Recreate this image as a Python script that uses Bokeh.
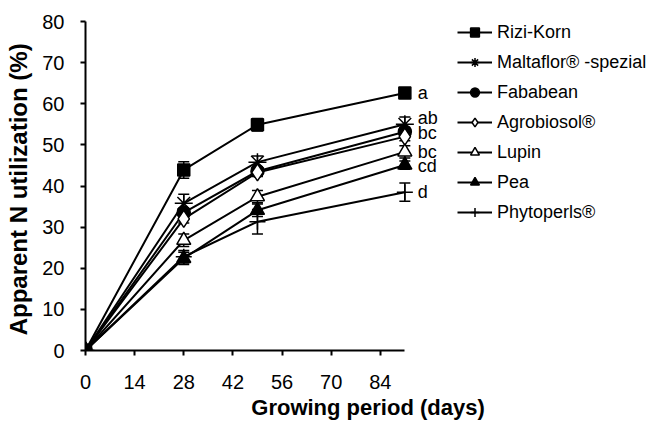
from bokeh.plotting import figure
from bokeh.models import (ColumnDataSource, Whisker, TeeHead, Legend, LegendItem,
                          Range1d, FixedTicker)
from bokeh.embed import file_html
from bokeh.resources import INLINE
from bokeh.core.properties import value

# ---------------- data ----------------
days = [0, 28, 49, 91]
x_ticks = [0, 14, 28, 42, 56, 70, 84]
y_ticks = [0, 10, 20, 30, 40, 50, 60, 70, 80]

names = ["Rizi-Korn", "Maltaflor\u00ae -spezial", "Fababean", "Agrobiosol\u00ae",
         "Lupin", "Pea", "Phytoperls\u00ae"]

rizi_korn = [0, 43.9, 54.9, 62.6]
maltaflor = [0, 35.8, 45.8, 55.0]
fababean = [0, 33.5, 43.6, 53.2]
agrobiosol = [0, 32.0, 43.3, 52.0]
lupin = [0, 26.8, 37.4, 48.3]
pea = [0, 22.4, 34.1, 45.1]
phytoperls = [0, 22.8, 31.3, 38.5]

rizi_korn_err = [0, 2.0, 1.5, 1.0]
maltaflor_err = [0, 2.2, 1.5, 1.8]
fababean_err = [0, 1.0, 1.0, 1.0]
agrobiosol_err = [0, 1.0, 1.0, 1.0]
lupin_err = [0, 1.5, 1.5, 1.5]
pea_err = [0, 1.5, 1.5, 1.0]
phytoperls_err = [0, 1.5, 3.0, 2.2]

sig_letters = ["a", "ab", "bc", "bc", "cd", "d"]
sig_series = [0, 1, 2, 4, 5, 6]

# ---------------- styles ----------------
FONT = "Liberation Sans"
series = [rizi_korn, maltaflor, fababean, agrobiosol, lupin, pea, phytoperls]
errors = [rizi_korn_err, maltaflor_err, fababean_err, agrobiosol_err,
          lupin_err, pea_err, phytoperls_err]
styles = [
    dict(marker="square", fill_color="black", size=12),
    dict(marker="asterisk", fill_color="black", size=18),
    dict(marker="circle", fill_color="black", size=13),
    dict(marker="diamond", fill_color="white", size=17),
    dict(marker="triangle", fill_color="white", size=14),
    dict(marker="triangle", fill_color="black", size=14),
    dict(marker="cross", fill_color="black", size=16),
]
sig_nudge = [0, -6, 1, 0, 1, 0]

p = figure(width=650, height=427, output_backend="svg", toolbar_location=None,
           x_range=Range1d(0, 161), y_range=Range1d(0, 80),
           min_border_left=85, min_border_right=0, min_border_top=21,
           min_border_bottom=77)
p.outline_line_color = None
p.xgrid.visible = False
p.ygrid.visible = False
p.background_fill_color = "white"

for ax in (p.xaxis, p.yaxis):
    ax.axis_line_width = 2
    ax.axis_line_color = "black"
    ax.major_tick_line_width = 2
    ax.major_tick_line_color = "black"
    ax.major_tick_out = 5
    ax.major_tick_in = 0
    ax.minor_tick_line_color = None
    ax.major_label_text_font = FONT
    ax.major_label_text_font_size = "20px"
    ax.major_label_text_color = "black"
    ax.axis_label_text_font = FONT
    ax.axis_label_text_font_style = "bold"
    ax.axis_label_text_color = "black"

p.xaxis.ticker = FixedTicker(ticks=x_ticks)
p.yaxis.ticker = FixedTicker(ticks=y_ticks)
p.xaxis.bounds = (0, 91)
p.yaxis.bounds = (0, 80)
p.xaxis.axis_label = "Growing period (days)"
p.yaxis.axis_label = "Apparent  N utilization (%)"
p.xaxis.axis_label_text_font_size = "22px"
p.yaxis.axis_label_text_font_size = "24px"
p.xaxis.major_label_standoff = 19
p.xaxis.axis_label_standoff = 3
p.yaxis.major_label_standoff = 16
p.yaxis.axis_label_standoff = 7

items = []
for name, ys, es, st in zip(names, series, errors, styles):
    src = ColumnDataSource(dict(x=days, y=ys))
    lr = p.line("x", "y", source=src, line_color="black", line_width=2)
    ex = [d for d, e in zip(days, es) if e > 0]
    up = [y + e for y, e in zip(ys, es) if e > 0]
    lo = [y - e for y, e in zip(ys, es) if e > 0]
    esrc = ColumnDataSource(dict(x=ex, upper=up, lower=lo))
    w = Whisker(base="x", upper="upper", lower="lower", source=esrc,
                dimension="height", line_color="black", line_width=1.5,
                upper_head=TeeHead(size=11, line_width=1.5, line_color="black"),
                lower_head=TeeHead(size=11, line_width=1.5, line_color="black"))
    p.add_layout(w)
    sr = p.scatter("x", "y", source=src, marker=st["marker"], size=st["size"],
                   fill_color=st["fill_color"], line_color="black", line_width=1.5)
    items.append(LegendItem(label=name, renderers=[lr, sr]))

# significance letters
lsrc = ColumnDataSource(dict(
    x=[days[-1]] * len(sig_letters),
    y=[series[i][-1] for i in sig_series],
    t=sig_letters,
    yo=sig_nudge,
))
p.text("x", "y", text="t", source=lsrc, x_offset=13, y_offset="yo",
       text_font=value(FONT), text_font_size="18px", text_baseline="middle",
       text_align="left", text_color="black")

legend = Legend(items=items, location=(372, 127), orientation="vertical",
                glyph_width=35, glyph_height=22, label_height=22, spacing=8,
                padding=0, margin=0, label_standoff=5,
                label_text_font=FONT, label_text_font_size="18px",
                label_text_color="black", border_line_color=None,
                background_fill_alpha=0)
p.add_layout(legend)

open("out.html", "w").write(file_html(p, INLINE))
